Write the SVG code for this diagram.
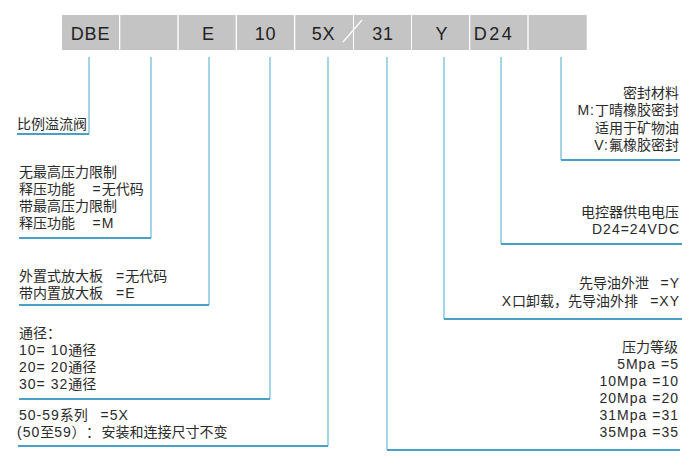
<svg xmlns="http://www.w3.org/2000/svg" width="700" height="465" viewBox="0 0 700 465">
<style>
.box{fill:#c4c4c4;}
.ht{font-family:"Liberation Sans","Noto Sans",sans-serif;font-size:18px;fill:#222;text-anchor:middle;letter-spacing:0.8px;}
.t{font-family:"Liberation Sans","Noto Sans CJK SC",sans-serif;font-size:14px;fill:#2a2a2a;white-space:pre;}
.l{letter-spacing:1px;}
.r{text-anchor:end;}
.v{stroke:#8ccbe0;stroke-width:1.6;fill:none;}
.h{stroke:#4a9fc8;stroke-width:2;fill:none;}
</style>
<rect width="700" height="465" fill="#fff"/>
<g id="header">
<rect class="box" x="62" y="15" width="57" height="35"/>
<rect class="box" x="120.3" y="15" width="57" height="35"/>
<rect class="box" x="178.7" y="15" width="57" height="35"/>
<rect class="box" x="237" y="15" width="57" height="35"/>
<rect class="box" x="295.3" y="15" width="57.7" height="35"/>
<rect class="box" x="354" y="15" width="57" height="35"/>
<rect class="box" x="412" y="15" width="57" height="35"/>
<rect class="box" x="470.3" y="15" width="57" height="35"/>
<rect class="box" x="528.7" y="15" width="58" height="35"/>
<line x1="343" y1="42" x2="362" y2="20" stroke="#fff" stroke-width="1.2"/>
<text class="ht" x="90.5" y="40">DBE</text>
<text class="ht" x="208.5" y="40">E</text>
<text class="ht" x="265.5" y="40">10</text>
<text class="ht" x="323.5" y="40">5X</text>
<text class="ht" x="383" y="40">31</text>
<text class="ht" x="442" y="40">Y</text>
<text class="ht" x="494" y="40" style="letter-spacing:2.5px">D24</text>
</g>
<g id="connectors">
<path class="v" d="M89,57V134"/>
<path class="h" d="M17,134H89"/>
<path class="v" d="M151,57V238"/>
<path class="h" d="M19,238H151"/>
<path class="v" d="M209,57V305"/>
<path class="h" d="M19,305H209"/>
<path class="v" d="M270,57V399"/>
<path class="h" d="M19,399H270"/>
<path class="v" d="M328,57V446"/>
<path class="h" d="M18,446H328"/>
<path class="v" d="M561,57V160"/>
<path class="h" d="M561,160H680"/>
<path class="v" d="M501,57V244"/>
<path class="h" d="M501,244H682"/>
<path class="v" d="M444,57V319"/>
<path class="h" d="M444,319H682"/>
<path class="v" d="M387,57V450"/>
<path class="h" d="M387,450H680"/>
</g>
<g id="type">
<text class="t" x="17" y="129">比例溢流阀</text>
</g>
<g id="relief">
<text class="t" x="19" y="177">无最高压力限制</text>
<text class="t" x="19" y="194">释压功能<tspan class="l" x="92.5">=</tspan>无代码</text>
<text class="t" x="19" y="211">带最高压力限制</text>
<text class="t" x="19" y="228">释压功能<tspan class="l" x="92.5">=M</tspan></text>
</g>
<g id="amplifier">
<text class="t" x="19" y="281">外置式放大板<tspan class="l" x="116">=</tspan>无代码</text>
<text class="t" x="19" y="298">带内置放大板<tspan class="l" x="116">=E</tspan></text>
</g>
<g id="size">
<text class="t" x="19" y="338">通径：</text>
<text class="t" x="19" y="355"><tspan class="l">10= 10</tspan>通径</text>
<text class="t" x="19" y="372"><tspan class="l">20= 20</tspan>通径</text>
<text class="t" x="19" y="389"><tspan class="l">30= 32</tspan>通径</text>
</g>
<g id="series">
<text class="t" x="19" y="420"><tspan class="l">50-59</tspan>系列<tspan class="l" x="100.5">=5X</tspan></text>
<text class="t" x="17" y="437"><tspan class="l">(50</tspan>至<tspan class="l">59</tspan><tspan x="71.5">）</tspan><tspan x="86">：</tspan><tspan x="101.5">安装和连接尺寸不变</tspan></text>
</g>
<g id="seal">
<text class="t r" x="679" y="98">密封材料</text>
<text class="t r" x="679" y="115"><tspan class="l">M:</tspan>丁晴橡胶密封</text>
<text class="t r" x="679" y="133">适用于矿物油</text>
<text class="t r" x="679" y="150"><tspan class="l">V:</tspan>氟橡胶密封</text>
</g>
<g id="voltage">
<text class="t r" x="679" y="217">电控器供电电压</text>
<text class="t r l" x="680" y="234">D24=24VDC</text>
</g>
<g id="pilot">
<text class="t r" x="649" y="288">先导油外泄</text>
<text class="t r l" x="680" y="288">=Y</text>
<text class="t r" x="638" y="306"><tspan class="l">X</tspan>口卸载，先导油外排</text>
<text class="t r l" x="680" y="306">=XY</text>
</g>
<g id="pressure">
<text class="t r" x="678" y="352">压力等级</text>
<text class="t r l" x="679" y="369">5Mpa =5</text>
<text class="t r l" x="679" y="386">10Mpa =10</text>
<text class="t r l" x="679" y="403">20Mpa =20</text>
<text class="t r l" x="679" y="420">31Mpa =31</text>
<text class="t r l" x="679" y="437">35Mpa =35</text>
</g>
</svg>
